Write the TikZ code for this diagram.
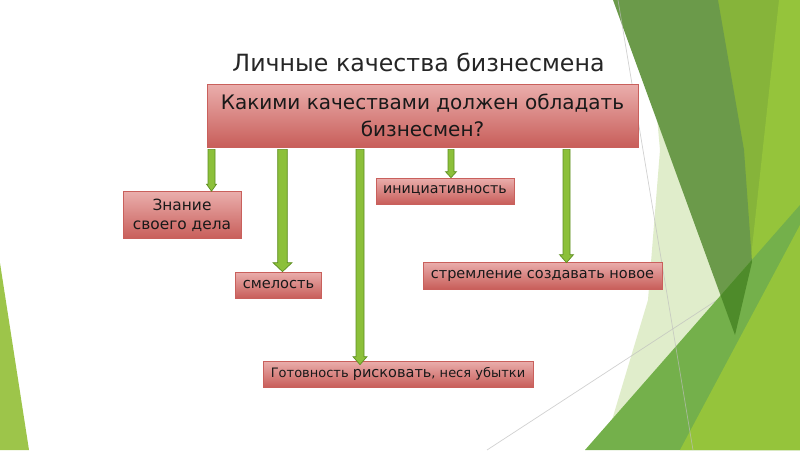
\documentclass[tikz,border=0pt]{standalone}
\usepackage{fontspec}
\setmainfont{DejaVu Sans}
\usetikzlibrary{calc}

\definecolor{boxtop}{HTML}{EAAEAC}
\definecolor{boxbot}{HTML}{C85E5A}
\definecolor{boxline}{HTML}{C9605C}
\definecolor{arrfill}{HTML}{8CC03A}
\definecolor{arrline}{HTML}{5E8E22}
\definecolor{gdark}{HTML}{6B9A4A}
\definecolor{gdarkest}{HTML}{4E8B2A}
\definecolor{gmid}{HTML}{86B43A}
\definecolor{gbright}{HTML}{95C43B}
\definecolor{gmedium}{HTML}{74B04B}
\definecolor{gpale}{HTML}{E0EDCB}
\definecolor{gleft}{HTML}{9DC54A}
\definecolor{thinline}{HTML}{BEBEBE}

% block arrow: target node, x, shaft half width, head half width, head length, tip overlap
\newcommand{\grarrow}[6]{%
  \draw[grarrow] let \p1=(n_q.south), \p2=(#1.north) in
    ({#2pt-#3pt},{\y1-2pt}) -- ({#2pt-#3pt},{\y2+#5pt-#6pt}) -- ({#2pt-#4pt},{\y2+#5pt-#6pt})
    -- ({#2pt},{\y2-#6pt})
    -- ({#2pt+#4pt},{\y2+#5pt-#6pt}) -- ({#2pt+#3pt},{\y2+#5pt-#6pt}) -- ({#2pt+#3pt},{\y1-2pt}) -- cycle;}

\begin{document}
\begin{tikzpicture}[x=1pt,y=-1pt]
\tikzset{
  qbox/.style={draw=boxline,line width=0.7pt,top color=boxtop,bottom color=boxbot,inner sep=0pt,align=center,text=black!90},
  qualbox/.style={qbox,font=\fontsize{14.4}{19}\selectfont},
  grarrow/.style={draw=arrline,fill=arrfill,line width=0.7pt,line join=miter},
  hairline/.style={draw=thinline,line width=0.7pt,draw opacity=0.7}
}
\useasboundingbox (0,0) rectangle (800,450);
\fill[white] (0,0) rectangle (800,450);

% slide background
\fill[gleft] (0,263) -- (29,450) -- (0,450) -- cycle;
\fill[gpale] (655,95) -- (735,335) -- (612,420) -- (648,300) -- (660,150) -- cycle;
\draw[hairline] (487,450) -- (800,246);
\fill[gmid] (700,0) -- (782,0) -- (752,262) -- cycle;
\fill[gbright] (779,0) -- (800,0) -- (800,450) -- (730,450) -- cycle;
\fill[gdark] (613,0) -- (718,0) -- (744,150) -- (752,262) -- (735,335) -- cycle;
\fill[gmedium] (585,450) -- (800,205) -- (800,450) -- cycle;
\begin{scope}
  \clip (585,450) -- (800,205) -- (800,450) -- cycle;
  \fill[gdarkest] (613,0) -- (718,0) -- (744,150) -- (752,262) -- (735,335) -- cycle;
\end{scope}
\fill[gbright] (680,450) -- (800,225) -- (800,450) -- cycle;
\draw[hairline] (618,0) -- (693,450);

% title and boxes
\node[text=black!85,font=\fontsize{23.7}{28}\selectfont] (n_title) at (418.5,62) {Личные качества бизнесмена};
\node[qbox,minimum width=431pt,minimum height=63pt,font=\fontsize{20}{27}\selectfont] (n_q) at (422.5,115.5)
  {Какими качествами должен обладать\\бизнесмен?};
\node[qualbox,minimum width=118pt,minimum height=47pt,font=\fontsize{15.4}{19}\selectfont] (n_know) at (182,215) {Знание\\своего дела};
\node[qualbox,minimum width=86pt,minimum height=26pt,font=\fontsize{14.6}{18}\selectfont] (n_brave) at (278.5,285) {смелость};
\node[qualbox,minimum width=138pt,minimum height=26pt,font=\fontsize{14.2}{18}\selectfont] (n_init) at (445,191) {инициативность};
\node[qualbox,minimum width=239pt,minimum height=27pt,font=\fontsize{14.5}{18}\selectfont] (n_new) at (542.5,275.5) {стремление создавать новое};
\node[qualbox,minimum width=270pt,minimum height=26pt,font=\fontsize{13}{18}\selectfont] (n_risk) at (398,374)
  {Готовность {\fontsize{14.5}{18}\selectfont рисковать}, неся убытки};

% arrows
\grarrow{n_know}{211.5}{3.5}{5}{7}{0}
\grarrow{n_brave}{282.5}{4.8}{9.5}{9}{0}
\grarrow{n_risk}{360}{4}{7}{8}{4}
\grarrow{n_init}{451}{3}{5.5}{6}{0}
\grarrow{n_new}{566.5}{3.5}{7}{8}{1}
\end{tikzpicture}
\end{document}
